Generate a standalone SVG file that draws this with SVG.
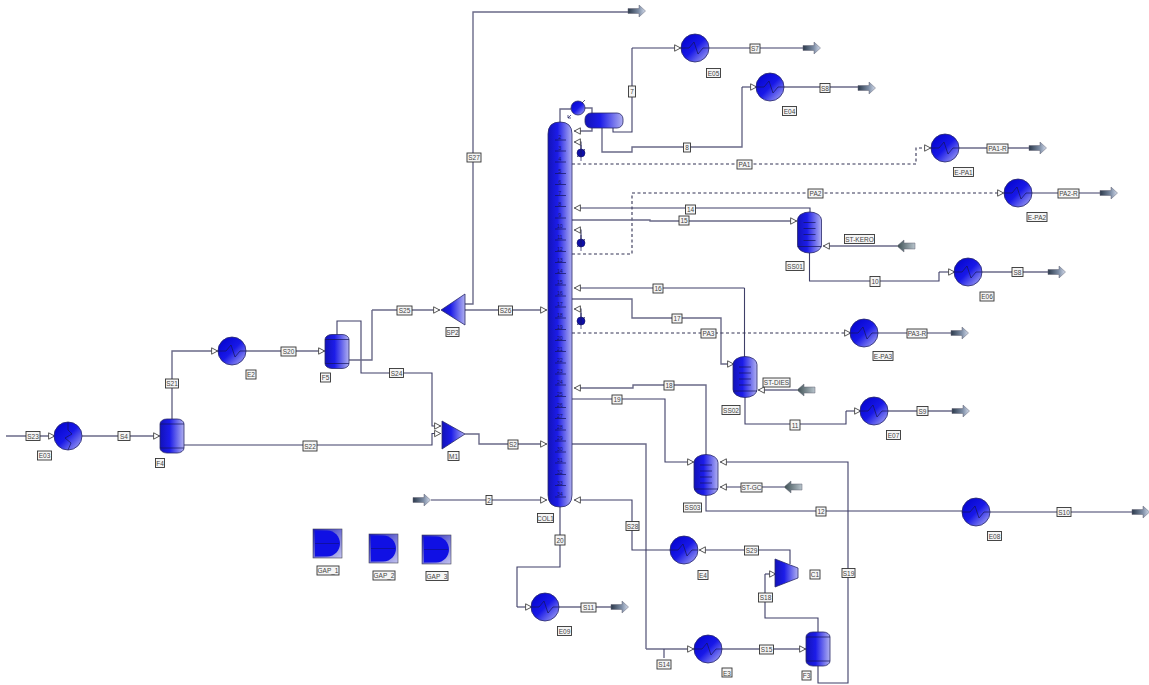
<svg xmlns="http://www.w3.org/2000/svg" width="1149" height="685" viewBox="0 0 1149 685">
<style>
text{font-family:"Liberation Sans",Arial,sans-serif;fill:#444;text-anchor:middle;dominant-baseline:central}
.t text,text.t{font-size:6.5px}
.b{fill:#f5f5f5;stroke:#333;stroke-width:.9}
.c path,path.s{fill:none;stroke:#3f3f68;stroke-width:1.1;marker-end:url(#tri)}
.c path.n{marker-end:none}
.c path.g{stroke:#6a6a88;stroke-width:1.4}
.c path.d{stroke:#333355;stroke-dasharray:3 2.5}
.e{stroke:#28286a;stroke-width:.8}
.tr{stroke:#14145a;stroke-width:.7;fill:none}
text.ti{font-size:5px;fill:#14146a}
</style>
<defs>
<marker id="tri" markerUnits="userSpaceOnUse" markerWidth="9" markerHeight="9" refX="7" refY="4" orient="auto"><path d="M.6 .8 L6.6 4 L.6 7.2Z" fill="#fff" stroke="#444" stroke-width=".9"/></marker>
<linearGradient id="v" x1="0" x2="1" y1="0" y2="0"><stop offset="0" stop-color="#1212b8"/><stop offset=".4" stop-color="#1c1ce8"/><stop offset="1" stop-color="#b0b0f0"/></linearGradient>
<linearGradient id="h" x1="0" x2="1" y1="0" y2="1"><stop offset="0" stop-color="#0000c8"/><stop offset=".5" stop-color="#1818e8"/><stop offset="1" stop-color="#b4b4f2"/></linearGradient>
<linearGradient id="o" x1="0" x2="1" y1="0" y2="0"><stop offset="0" stop-color="#2c3a4c"/><stop offset=".6" stop-color="#7c8ca4"/><stop offset="1" stop-color="#d4dcec"/></linearGradient>
<linearGradient id="i" x1="0" x2="1" y1="0" y2="0"><stop offset="0" stop-color="#3a4c50"/><stop offset="1" stop-color="#b8c4cc"/></linearGradient>
<linearGradient id="q" x1="0" x2="1" y1="0" y2="1"><stop offset="0" stop-color="#1818b8"/><stop offset="1" stop-color="#c4c4f0"/></linearGradient>
<g id="hx"><circle r="14" fill="url(#h)" class="e"/><path d="M-14 0H-6L-1-6L3 6L8 0H14" class="tr"/></g>
<g id="hxv"><circle r="14" fill="url(#h)" class="e"/><path d="M0-14V-6L4-2L-3 2L3 7L0 14" class="tr"/></g>
<path id="out" d="M0-2.500H11V-6L17.500 0L11 6V2.500H0Z" fill="url(#o)" stroke="#667" stroke-width=".5"/>
<path id="in" d="M0 0L7-6V-3H18V3H7V6Z" fill="url(#i)" stroke="#667" stroke-width=".5"/>
<g id="drum"><rect x="-12" y="-17" width="24" height="34" rx="7" ry="5" fill="url(#v)" class="e"/><path d="M-12-12H12M-12 12H12" class="tr"/></g>
<g id="strip"><rect x="-12" y="-20.500" width="24" height="41" rx="12" ry="8" fill="url(#v)" class="e"/><path d="M-6-10H6M-6-4H6M-6 2H6M-6 8H6M-12 14H12" class="tr"/></g>
<g id="pa"><circle r="4" fill="#0e0ea8" stroke="#111160" stroke-width=".6"/><path d="M0-8V8M-4 4L-2 2M4-4L2-2" class="tr"/></g>
<g id="gap"><rect width="29" height="29" fill="url(#q)" stroke="#445" stroke-width=".6"/><path d="M2 1.500H14C22 1.500 27 8 27 14.500C27 21 22 27.500 14 27.500H2Z" fill="#1010e4"/><path d="M2 14.500H26" stroke="#10108a" stroke-width=".7"/></g>
</defs>
<rect width="1149" height="685" fill="#fff"/>

<g id="connectors" class="c">
<path class="g" d="M6 436H55"/>
<path class="g" d="M82 436H160"/>
<path class="g" d="M172 420V351H218"/>
<path class="g" d="M246 351H325"/>
<path d="M337 335V321H361V373H432V426H441"/>
<path d="M184 445H432V433.500H441"/>
<path class="g n" d="M348 360H372V310"/>
<path class="g" d="M372 310H440"/>
<path class="g" d="M465 310H547"/>
<path class="g n" d="M465 304H473V12H628"/>
<path class="g" d="M465 434H479V444H547"/>
<path d="M431 500H547"/>
<path class="n" d="M560 507V567H517V607"/>
<path d="M517 607H532"/>
<path class="g n" d="M559 607H611"/>
<path class="g n" d="M572 444H646V649"/>
<path class="g" d="M646 649H694"/>
<path class="n" d="M664 649V658"/>
<path class="g" d="M722 649H806"/>
<path class="n" d="M818 632V618H765V574"/>
<path d="M765 574H776"/>
<path d="M790 564V550H699"/>
<path d="M670 550H632V500H574"/>
<path d="M818 665V683H848V462H720"/>
<path d="M784 487H720"/>
<path class="n" d="M706 495V511H962"/>
<path class="n" d="M990 512H1132"/>
<path d="M572 399H665V462H694"/>
<path class="g" d="M706 455V385H633V388H574"/>
<path class="n" d="M744.500 357V288"/>
<path d="M744.500 288H574"/>
<path class="g" d="M572 299H632V318H721V364H734"/>
<path class="g" d="M797 390H758"/>
<path class="n" d="M745 397V424H846V411"/>
<path d="M846 411H861"/>
<path class="g n" d="M888 411H952"/>
<path class="d" d="M572 333H851"/>
<path class="n" d="M878 333H951"/>
<path d="M581 149V142H574"/>
<path d="M581 239V230H574"/>
<path d="M581 317V309H574"/>
<path class="g n" d="M560 122V109H571"/>
<path class="g n" d="M585 108H592V113"/>
<path class="g" d="M592 128V131H574"/>
<path class="n" d="M613 128V132H632V48"/>
<path d="M632 48H681"/>
<path class="n" d="M709 48H803"/>
<path class="g n" d="M602 128V152H632V147H742V87"/>
<path d="M742 87H757"/>
<path class="g n" d="M784 87H858"/>
<path class="d" d="M572 164H916V148H931"/>
<path class="g n" d="M959 148H1029"/>
<path class="d" d="M572 254H632V193H1004"/>
<path class="n" d="M1032 193H1100"/>
<path d="M810 212V208H574"/>
<path class="g" d="M572 220H650V221H797"/>
<path class="g" d="M897 246H823"/>
<path class="n" d="M809.500 253V281H939V272"/>
<path d="M939 272H955"/>
<path class="g n" d="M982 272H1048"/>
<g class="t">
<g><rect class="b" x="26" y="431.500" width="14" height="9"/><text x="33" y="436">S23</text></g>
<g><rect class="b" x="118" y="431.500" width="12" height="9"/><text x="124" y="436">S4</text></g>
<g><rect class="b" x="165.500" y="379" width="13" height="9"/><text x="172" y="383.500">S21</text></g>
<g><rect class="b" x="281" y="347" width="15" height="9"/><text x="288.500" y="351.500">S20</text></g>
<g><rect class="b" x="389.500" y="368.500" width="14" height="9"/><text x="396.500" y="373">S24</text></g>
<g><rect class="b" x="303" y="441" width="14" height="10"/><text x="310" y="446">S22</text></g>
<g><rect class="b" x="397" y="306" width="15" height="9"/><text x="404.500" y="310.500">S25</text></g>
<g><rect class="b" x="498.500" y="306" width="14" height="9"/><text x="505.500" y="310.500">S26</text></g>
<g><rect class="b" x="467" y="153" width="14" height="9"/><text x="474" y="157.500">S27</text></g>
<g><rect class="b" x="508" y="440" width="10" height="9"/><text x="513" y="444.500">S2</text></g>
<g><rect class="b" x="486" y="495.500" width="6" height="9"/><text x="489" y="500">2</text></g>
<g><rect class="b" x="555" y="535" width="10" height="10"/><text x="560" y="540">20</text></g>
<g><rect class="b" x="581" y="603" width="15" height="9"/><text x="588.500" y="607.500">S11</text></g>
<g><rect class="b" x="626" y="521.500" width="13" height="9"/><text x="632.500" y="526">S28</text></g>
<g><rect class="b" x="657" y="660" width="14" height="9"/><text x="664" y="664.500">S14</text></g>
<g><rect class="b" x="759.500" y="645" width="14" height="9"/><text x="766.500" y="649.500">S15</text></g>
<g><rect class="b" x="758.500" y="593" width="14" height="9"/><text x="765.500" y="597.500">S18</text></g>
<g><rect class="b" x="744.500" y="546" width="14" height="9"/><text x="751.500" y="550.500">S29</text></g>
<g><rect class="b" x="842" y="568.500" width="13" height="9"/><text x="848.500" y="573">S19</text></g>
<g><rect class="b" x="741" y="483" width="21" height="9"/><text x="751.500" y="487.500">ST-GC</text></g>
<g><rect class="b" x="816" y="507" width="10" height="9"/><text x="821" y="511.500">12</text></g>
<g><rect class="b" x="1057" y="507.500" width="14" height="9"/><text x="1064" y="512">S10</text></g>
<g><rect class="b" x="612" y="395" width="10" height="9"/><text x="617" y="399.500">19</text></g>
<g><rect class="b" x="664" y="381" width="10" height="9"/><text x="669" y="385.500">18</text></g>
<g><rect class="b" x="653" y="284" width="10" height="9"/><text x="658" y="288.500">16</text></g>
<g><rect class="b" x="672" y="314" width="10" height="9"/><text x="677" y="318.500">17</text></g>
<g><rect class="b" x="763" y="378" width="27" height="9"/><text x="776.500" y="382.500">ST-DIES</text></g>
<g><rect class="b" x="790" y="420" width="10" height="10"/><text x="795" y="425">11</text></g>
<g><rect class="b" x="917" y="406.500" width="11" height="9"/><text x="922.500" y="411">S9</text></g>
<g><rect class="b" x="701" y="329" width="15" height="9"/><text x="708.500" y="333.500">PA3</text></g>
<g><rect class="b" x="907" y="329" width="20" height="9"/><text x="917" y="333.500">PA3-R</text></g>
<g><rect class="b" x="628.500" y="86" width="7" height="11"/><text x="632" y="91.500">7</text></g>
<g><rect class="b" x="683.500" y="143" width="7" height="9"/><text x="687" y="147.500">8</text></g>
<g><rect class="b" x="750" y="44" width="10" height="9"/><text x="755" y="48.500">S7</text></g>
<g><rect class="b" x="820" y="83.500" width="10" height="9"/><text x="825" y="88">S8</text></g>
<g><rect class="b" x="737" y="160" width="15" height="9"/><text x="744.500" y="164.500">PA1</text></g>
<g><rect class="b" x="987" y="144" width="21" height="9"/><text x="997.500" y="148.500">PA1-R</text></g>
<g><rect class="b" x="808" y="189" width="15" height="9"/><text x="815.500" y="193.500">PA2</text></g>
<g><rect class="b" x="1058" y="189" width="21" height="9"/><text x="1068.500" y="193.500">PA2-R</text></g>
<g><rect class="b" x="685.500" y="205" width="10" height="9"/><text x="690.500" y="209.500">14</text></g>
<g><rect class="b" x="679" y="216" width="10" height="9"/><text x="684" y="220.500">15</text></g>
<g><rect class="b" x="844.500" y="234.500" width="30" height="9"/><text x="859.500" y="239">ST-KERO</text></g>
<g><rect class="b" x="870" y="276.500" width="10" height="10"/><text x="875" y="281.500">10</text></g>
<g><rect class="b" x="1012" y="267.500" width="11" height="9"/><text x="1017.500" y="272">S8</text></g>
</g>
</g>

<g id="E03"><use href="#hxv" x="68" y="436"/><rect class="b" x="37.500" y="451" width="14" height="9"/><text class="t" x="44.500" y="455.500">E03</text></g>
<g id="F4"><use href="#drum" x="172" y="436"/><rect class="b" x="155.500" y="458.500" width="9" height="9"/><text class="t" x="160" y="463">F4</text></g>
<g id="E2"><use href="#hx" x="232" y="351"/><rect class="b" x="246" y="370" width="10" height="9"/><text class="t" x="251" y="374.500">E2</text></g>
<g id="F5"><use href="#drum" x="337" y="351.500"/><rect class="b" x="320.500" y="373" width="10" height="9"/><text class="t" x="325.500" y="377.500">F5</text></g>
<g id="SP2"><path d="M441 310L465 294V325Z" fill="url(#v)" class="e"/><rect class="b" x="446" y="327.500" width="13" height="9"/><text class="t" x="452.500" y="332">SP2</text></g>
<g id="M1"><path d="M442 421V449L465 434Z" fill="url(#v)" class="e"/><rect class="b" x="448" y="451.500" width="11" height="9"/><text class="t" x="453.500" y="456">M1</text></g>
<g id="COL1"><path d="M548 134Q548 122 560 122Q572 122 572 134V495Q572 507 560 507Q548 507 548 495Z" fill="url(#v)" class="e"/>
<path class="tr" d="M555 140H566M555 151H566M555 162H566M555 173.500H566M555 184.500H566M555 195.500H566M555 206.500H566M555 218H566M555 229H566M555 240H566M555 251.500H566M555 262.500H566M555 273.500H566M555 285H566M555 296H566M555 307H566M555 318H566M555 329.500H566M555 340.500H566M555 351.500H566M555 363H566M555 374H566M555 385H566M555 396.500H566M555 407.500H566M555 418.500H566M555 430H566M555 441H566M555 452H566M555 463H566M555 474.500H566M555 485.500H566M555 497H566"/>
<g><text class="ti" x="560" y="137">2</text><text class="ti" x="560" y="148">3</text><text class="ti" x="560" y="159">4</text><text class="ti" x="560" y="170.500">5</text><text class="ti" x="560" y="181.500">6</text><text class="ti" x="560" y="192.500">7</text><text class="ti" x="560" y="203.500">8</text><text class="ti" x="560" y="215">9</text><text class="ti" x="560" y="226">10</text><text class="ti" x="560" y="237">11</text><text class="ti" x="560" y="248.500">12</text><text class="ti" x="560" y="259.500">13</text><text class="ti" x="560" y="270.500">14</text><text class="ti" x="560" y="282">15</text><text class="ti" x="560" y="293">16</text><text class="ti" x="560" y="304">17</text><text class="ti" x="560" y="315">18</text><text class="ti" x="560" y="326.500">19</text><text class="ti" x="560" y="337.500">20</text><text class="ti" x="560" y="348.500">21</text><text class="ti" x="560" y="360">22</text><text class="ti" x="560" y="371">23</text><text class="ti" x="560" y="382">24</text><text class="ti" x="560" y="393.500">25</text><text class="ti" x="560" y="404.500">26</text><text class="ti" x="560" y="415.500">27</text><text class="ti" x="560" y="427">28</text><text class="ti" x="560" y="438">29</text><text class="ti" x="560" y="449">30</text><text class="ti" x="560" y="460">31</text><text class="ti" x="560" y="471.500">32</text><text class="ti" x="560" y="482.500">33</text><text class="ti" x="560" y="494">34</text></g>
<rect class="b" x="537.500" y="513.500" width="16" height="9"/><text class="t" x="545.500" y="518">COL1</text></g>
<g id="COND"><circle cx="578" cy="108" r="7" fill="url(#h)" class="e"/><path d="M585 100L582 103M571 115L568 118M568 118H571M568 118V115" class="tr"/></g>
<g id="DRUM"><rect x="585" y="113" width="38" height="15" rx="6" fill="url(#v)" class="e"/></g>
<g id="PA-C1"><use href="#pa" x="581" y="153"/></g>
<g id="PA-C2"><use href="#pa" x="581" y="243"/></g>
<g id="PA-C3"><use href="#pa" x="581" y="321"/></g>
<g id="E05"><use href="#hx" x="695" y="48"/><rect class="b" x="706.500" y="68.500" width="14" height="9"/><text class="t" x="713.500" y="73">E05</text></g>
<g id="E04"><use href="#hx" x="770" y="87"/><rect class="b" x="782.500" y="106.500" width="14" height="9"/><text class="t" x="789.500" y="111">E04</text></g>
<g id="E-PA1"><use href="#hx" x="945" y="148"/><rect class="b" x="953.500" y="167.500" width="20" height="9"/><text class="t" x="963.500" y="172">E-PA1</text></g>
<g id="E-PA2"><use href="#hx" x="1018" y="193"/><rect class="b" x="1027" y="212.500" width="20" height="9"/><text class="t" x="1037" y="217">E-PA2</text></g>
<g id="E06"><use href="#hx" x="968" y="272"/><rect class="b" x="980" y="292" width="14" height="9"/><text class="t" x="987" y="296.500">E06</text></g>
<g id="E-PA3"><use href="#hx" x="864" y="333"/><rect class="b" x="873" y="351.500" width="20" height="9"/><text class="t" x="883" y="356">E-PA3</text></g>
<g id="E07"><use href="#hx" x="874" y="411"/><rect class="b" x="886.500" y="430.500" width="14" height="9"/><text class="t" x="893.500" y="435">E07</text></g>
<g id="E08"><use href="#hx" x="976" y="512"/><rect class="b" x="987.500" y="531.500" width="14" height="9"/><text class="t" x="994.500" y="536">E08</text></g>
<g id="E09"><use href="#hx" x="545" y="607"/><rect class="b" x="557.500" y="626.500" width="14" height="9"/><text class="t" x="564.500" y="631">E09</text></g>
<g id="E4"><use href="#hx" x="684" y="550"/><rect class="b" x="698" y="570.500" width="10" height="9"/><text class="t" x="703" y="575">E4</text></g>
<g id="E3"><use href="#hx" x="708" y="649"/><rect class="b" x="722" y="668" width="10" height="9"/><text class="t" x="727" y="673">E3</text></g>
<g id="F3"><use href="#drum" x="818" y="649"/><rect class="b" x="802" y="671" width="9" height="9"/><text class="t" x="806.500" y="675.500">F3</text></g>
<g id="C1"><path d="M775 559L798 568V578L775 587Z" fill="url(#v)" class="e"/><rect class="b" x="810" y="570" width="10" height="9"/><text class="t" x="815" y="574.500">C1</text></g>
<g id="SS01"><use href="#strip" x="809.500" y="232.500"/><rect class="b" x="786" y="261.500" width="18" height="9"/><text class="t" x="795" y="266">SS01</text></g>
<g id="SS02"><use href="#strip" x="745" y="377"/><rect class="b" x="722" y="405.500" width="18" height="9"/><text class="t" x="731" y="410">SS02</text></g>
<g id="SS03"><use href="#strip" x="706" y="475"/><rect class="b" x="683.500" y="503" width="18" height="9"/><text class="t" x="692.500" y="507.500">SS03</text></g>
<g id="GAP_1"><use href="#gap" x="313" y="529"/><rect class="b" x="317" y="566" width="22" height="9"/><text class="t" x="328" y="570.500">GAP_1</text></g>
<g id="GAP_2"><use href="#gap" x="369" y="534"/><rect class="b" x="373" y="571" width="22" height="9"/><text class="t" x="384" y="575.500">GAP_2</text></g>
<g id="GAP_3"><use href="#gap" x="422" y="535"/><rect class="b" x="426" y="571.500" width="22" height="9"/><text class="t" x="437" y="576">GAP_3</text></g>
<g id="ports">
<use href="#out" x="628" y="11"/><use href="#out" x="413" y="500"/><use href="#out" x="611" y="607"/>
<use href="#out" x="803" y="48"/><use href="#out" x="858" y="88"/><use href="#out" x="1029" y="148"/><use href="#out" x="1100" y="193"/><use href="#out" x="1048" y="272"/><use href="#out" x="951" y="333"/><use href="#out" x="952" y="411"/><use href="#out" x="1132" y="512"/>
<use href="#in" x="897" y="246"/><use href="#in" x="797" y="390"/><use href="#in" x="784" y="487"/>
</g>
</svg>
